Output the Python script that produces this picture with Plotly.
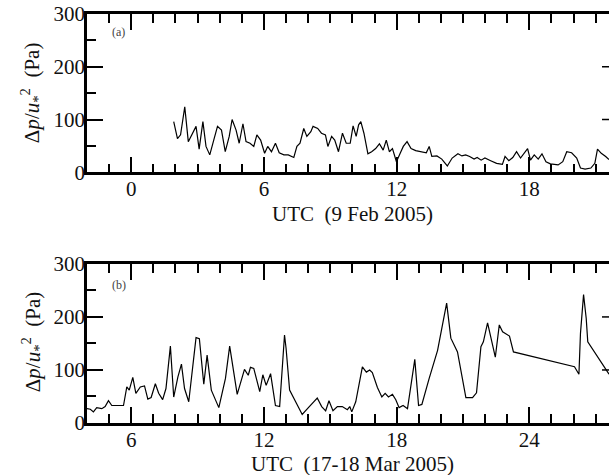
import plotly.graph_objects as go

# Panel (a): 9 Feb 2005
hours_a = [1.92, 2.09, 2.23, 2.42, 2.58, 2.75, 2.93, 3.07, 3.24, 3.38, 3.55, 3.73, 3.9, 4.08,
           4.25, 4.43, 4.56, 4.74, 4.88, 5.05, 5.19, 5.37, 5.54, 5.68, 5.85, 6.03, 6.17, 6.34,
           6.52, 6.69, 6.9, 7.1, 7.35, 7.49, 7.63, 7.8, 7.94, 8.12, 8.22, 8.43, 8.6, 8.78, 8.89,
           9.06, 9.2, 9.37, 9.55, 9.72, 9.9, 10.03, 10.17, 10.28, 10.38, 10.52, 10.7, 10.87,
           11.05, 11.22, 11.39, 11.53, 11.67, 11.81, 11.99, 12.16, 12.3, 12.47, 12.65, 12.86,
           13.12, 13.34, 13.47, 13.59, 13.82, 14.04, 14.29, 14.51, 14.77, 14.95, 15.12, 15.3,
           15.5, 15.64, 15.82, 15.99, 16.25, 16.52, 16.78, 16.9, 17.07, 17.25, 17.42, 17.6,
           17.92, 18.05, 18.22, 18.4, 18.57, 18.75, 18.95, 19.3, 19.51, 19.69, 19.91, 20.14,
           20.31, 20.52, 20.78, 20.96, 21.08, 21.25, 21.45, 21.6]
vals_a = [96, 64, 71, 124, 58, 71, 87, 44, 96, 49, 33, 61, 87, 80,
          39, 68, 100, 80, 55, 92, 58, 55, 49, 71, 61, 36, 49, 39,
          55, 37, 33, 33, 28, 49, 55, 83, 68, 77, 87, 83, 74, 71, 49,
          68, 61, 39, 74, 55, 55, 88, 68, 90, 96, 74, 35, 39,
          45, 54, 42, 61, 39, 45, 20, 36, 49, 58, 45, 41,
          39, 37, 49, 30, 31, 25, 12, 27, 35, 31, 33, 30,
          25, 28, 23, 27, 22, 17, 15, 30, 22, 28, 39, 27,
          45, 23, 33, 25, 35, 20, 16, 14, 20, 39, 37, 27,
          8, 6, 8, 17, 44, 36, 30, 24]

# Panel (b): 17-18 Mar 2005
hours_b = [4.0, 4.15, 4.29, 4.44, 4.67, 4.82, 4.97, 5.12, 5.65, 5.8, 5.91, 6.07, 6.21, 6.41,
           6.6, 6.75, 6.9, 7.09, 7.24, 7.42, 7.57, 7.77, 7.92, 8.11, 8.27, 8.41, 8.6, 8.78,
           8.93, 9.08, 9.28, 9.43, 9.62, 9.96, 10.26, 10.45, 10.79, 11.12, 11.29, 11.39, 11.54,
           11.81, 11.95, 12.1, 12.3, 12.52, 12.71, 12.93, 13.0, 13.16, 13.43, 13.73, 14.03,
           14.41, 14.61, 14.79, 14.94, 15.12, 15.32, 15.54, 15.77, 15.88, 15.97, 16.15, 16.45,
           16.63, 16.78, 16.9, 17.13, 17.33, 17.48, 17.63, 17.81, 17.96, 18.11, 18.29, 18.49,
           18.64, 18.82, 18.99, 19.14, 19.47, 19.85, 20.26, 20.45, 20.75, 21.13, 21.43, 21.61,
           21.81, 21.92, 22.11, 22.46, 22.64, 22.79, 23.1, 23.28, 26.04, 26.24, 26.31, 26.45,
           26.57, 26.64, 27.6]
vals_b = [27, 26, 21, 29, 27, 31, 42, 33, 33, 68, 62, 86, 56, 68,
          70, 45, 48, 74, 56, 44, 65, 145, 49, 87, 111, 65, 40, 106,
          161, 159, 73, 128, 62, 29, 84, 145, 54, 101, 90, 105, 103,
          59, 91, 71, 93, 33, 31, 166, 141, 62, 40, 16, 30,
          47, 31, 23, 42, 23, 31, 31, 25, 31, 21, 40, 106,
          96, 100, 95, 67, 49, 56, 49, 54, 44, 29, 33, 27,
          74, 120, 33, 35, 84, 137, 226, 160, 134, 48, 48, 57,
          144, 153, 189, 124, 185, 172, 164, 134, 106, 92, 169, 242,
          197, 153, 92]

y_ticks = [0, 100, 200, 300]
range_a = [-2, 21.6]
range_b = [4, 27.6]

FONT = "Liberation Serif, Times New Roman, serif"
TXT = "#111111"
TICKFONT = dict(family=FONT, size=21, color=TXT)

fig = go.Figure()
fig.add_trace(go.Scatter(x=hours_a, y=vals_a, mode="lines", xaxis="x", yaxis="y",
                         line=dict(color="black", width=1.2), showlegend=False))
fig.add_trace(go.Scatter(x=hours_b, y=vals_b, mode="lines", xaxis="x2", yaxis="y2",
                         line=dict(color="black", width=1.2), showlegend=False))


def xaxis(rng, anchor):
    return dict(showgrid=False, zeroline=False, showline=True, linecolor="black", linewidth=2.5,
                mirror="ticks", ticks="inside", ticklen=16, tickwidth=1.5, tickcolor="black",
                tick0=0, dtick=6, range=rng, anchor=anchor, domain=[0, 1],
                tickfont=TICKFONT, ticklabelstandoff=-4,
                minor=dict(ticks="inside", dtick=1, ticklen=9, tickwidth=1.5,
                           tickcolor="black"))


def yaxis(dom, anchor):
    return dict(showgrid=False, zeroline=False, showline=True, linecolor="black", linewidth=2.5,
                mirror=False, ticks="inside", ticklen=16, tickwidth=1.5, tickcolor="black",
                range=[0, 300], tickvals=y_ticks, domain=dom, anchor=anchor,
                tickfont=TICKFONT, ticklabelstandoff=-5,
                minor=dict(ticks="inside", dtick=50, ticklen=9, tickwidth=1.5,
                           tickcolor="black"))


fig.update_layout(
    width=609, height=475,
    margin=dict(l=87, r=0, t=14, b=52),
    paper_bgcolor="white", plot_bgcolor="white",
    font=dict(family=FONT, color=TXT),
    xaxis=xaxis(range_a, "y"),
    yaxis=yaxis([0.613, 1], "x"),
    xaxis2=xaxis(range_b, "y2"),
    yaxis2=yaxis([0, 0.389], "x2"),
)

ytitle = "Δ<i>p</i>/<i>u</i><sub>*</sub><sup>2</sup>  (Pa)"


def note(text, x, y, size, color=TXT, angle=0):
    return dict(text=text, x=x, y=y, xref="paper", yref="paper", showarrow=False,
                xanchor="center", yanchor="middle", textangle=angle,
                font=dict(family=FONT, size=size, color=color))


ann = [
    note("(a)", 0.0613, 0.956, 12, "#444"),
    note("(b)", 0.0613, 0.337, 12, "#444"),
    note("UTC  (9 Feb 2005)", 0.508, 0.511, 21),
    note("UTC  (17-18 Mar 2005)", 0.508, -0.1, 21),
    note(ytitle, -0.105, 0.807, 21, angle=-90),
    note(ytitle, -0.105, 0.198, 21, angle=-90),
]
fig.update_layout(annotations=ann)

# inward ticks of the (cropped) right-hand axis
shapes = []
for xr, yr in (("x domain", "y"), ("x2 domain", "y2")):
    for v in (100, 200):
        shapes.append(dict(type="line", xref=xr, yref=yr, x0=1 - 7 / 522, x1=1, y0=v, y1=v,
                           line=dict(color="black", width=1.5)))
fig.update_layout(shapes=shapes)

fig.write_html("out.html", config={"displayModeBar": False},
               post_script="document.body.style.margin='0';")
